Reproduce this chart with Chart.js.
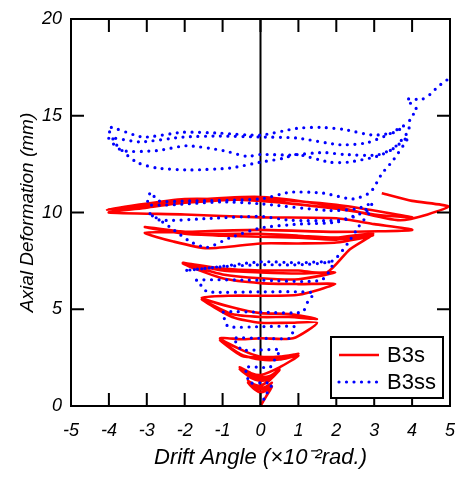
<!DOCTYPE html>
<html>
<head>
<meta charset="utf-8">
<script src="https://cdn.jsdelivr.net/npm/chart.js@4.4.1/dist/chart.umd.min.js"></script>
<style>
  body { margin: 0; background: #fff; }
</style>
</head>
<body>
<canvas id="axialChart" width="457" height="477"></canvas>
<script>
// series names
const seriesNames = ['B3s', 'B3ss'];

// B3s : [drift angle, axial deformation]
const b3s = [
  [0,0],[0.15,0.5],[0.3,1.0],[0.15,0.8],[0,0.7],[-0.15,0.85],[-0.33,1.2],[-0.15,0.95],[0,0.85],
  [0.15,0.95],[0.3,1.2],[0.15,1.0],[0,0.95],[-0.15,1.05],[-0.33,1.3],[-0.15,1.1],[0,1.05],
  [0.25,1.35],[0.5,1.85],[0.25,1.4],[0,1.3],[-0.25,1.45],[-0.55,1.9],[-0.25,1.5],[0,1.4],
  [0.25,1.5],[0.5,1.9],[0.25,1.55],[0,1.5],[-0.25,1.6],[-0.55,2.0],[-0.25,1.7],[0,1.6],
  [0.5,2.0],[1.0,2.6],[0.5,2.4],[0,2.4],[-0.5,2.65],[-1.07,3.4],[-0.5,2.6],[0,2.5],
  [0.5,2.5],[1.0,2.7],[0.5,2.55],[0,2.55],[-0.5,2.9],[-1.07,3.5],[-0.5,3.45],[0,3.5],[0.86,3.5],
  [1.49,4.3],[0.75,4.3],[0,4.3],[-0.75,4.6],[-1.55,5.5],[-0.75,4.75],[0,4.6],
  [0.75,4.6],[1.49,4.5],[0.75,4.75],[0,4.8],[-0.75,5.1],[-1.55,5.6],[-0.75,5.7],[0,5.7],[1.0,5.75],
  [1.97,6.3],[1.0,6.3],[0,6.35],[-1.0,6.6],[-2.05,7.35],[-1.0,6.8],[0,6.6],
  [1.0,6.55],[1.97,6.9],[1.0,6.85],[0,6.9],[-1.0,7.0],[-2.05,7.4],[-1.0,7.1],[0,7.0],[1.0,7.0],[1.75,6.9],[2.36,8.1],
  [2.97,8.9],[2.0,8.7],[1.0,8.8],[0,8.9],[-1.5,8.9],[-3.05,9.25],[-2.0,8.9],[-1.0,8.8],[0,8.75],[1.0,8.7],[2.0,8.6],[2.97,8.8],
  [2.0,8.45],[1.0,8.4],[0,8.4],[-1.4,8.15],[-2.3,8.5],[-3.05,8.95],[-2.0,9.0],[0,9.1],[2.0,9.0],[4.0,9.1],
  [3.0,9.4],[2.0,9.7],[0,9.75],[-2.0,9.9],[-4.0,10.0],[-3.0,10.25],[-2.0,10.5],[0,10.7],[2.0,10.4],[4.0,9.75],
  [3.0,9.9],[2.0,10.2],[0,10.6],[-2.0,10.7],[-4.05,10.15],[-2.0,10.6],[0,10.8],[2.0,10.3],[3.69,9.6],
  [4.95,10.3],[4.0,10.6],[3.2,11.0]
];

// B3ss : [drift angle, axial deformation]
const b3ss = [
  [0,0],[0.15,0.6],[0.3,1.15],[0,1.2],[-0.3,1.2],[-0.35,1.6],[-0.4,2.0],[0,2.0],[0.25,2.0],
  [0.4,2.5],[0.51,2.9],[0,2.9],[-0.5,2.9],[-0.6,3.2],[-0.72,3.5],[0,3.5],[0.79,3.5],[0.85,3.8],
  [0.9,4.1],[0,4.1],[-0.85,4.1],[-0.95,4.5],[-1.0,4.85],[0,4.85],[1.1,4.85],[1.25,5.4],[1.4,5.85],
  [0,5.9],[-1.4,5.9],[-1.55,6.2],[-1.7,6.5],[0,6.5],[1.6,6.5],[1.9,7.4],[1.0,7.4],[0,7.45],
  [-1.5,7.1],[-2.0,7.0],[-1.0,7.2],[0,7.3],[1.0,7.3],[1.9,7.5],[2.3,8.4],[2.6,9.3],[2.9,10.1],
  [2.44,9.8],[2.1,9.6],[0.78,9.6],[0,9.8],[-1.3,9.7],[-2.65,9.6],[-2.96,10.0],
  [-2.39,9.25],[-1.86,8.5],[-1.41,8.2],[-0.8,8.7],[0,9.2],[1.0,9.4],[2.0,9.5],[2.6,9.9],[2.97,10.5],
  [2.55,10.2],[1.83,10.1],[0,10.45],[-0.98,10.55],[-2.96,10.4],[-2.9,11.05],
  [-2.7,10.6],[-1.86,10.6],[0,10.7],[0.78,11.05],[1.65,11.0],[2.44,10.7],[2.9,11.05],
  [3.2,12.0],[3.5,12.7],[3.9,13.9],
  [3.5,13.3],[3.07,12.97],[2.2,13.0],[1.65,13.1],[0.78,12.97],[0,13.0],[-0.36,12.9],[-0.98,13.2],
  [-1.94,13.45],[-2.73,13.2],[-3.65,13.2],[-4.0,13.85],
  [-3.18,13.65],[-2.04,13.9],[-1.07,13.95],[0,13.9],[0.96,13.85],[2.1,13.5],[2.8,13.6],[3.34,14.0],[3.8,14.5],
  [3.55,14.15],[2.97,14.0],[2.18,14.3],[1.57,14.4],[0.96,14.35],[0,14.0],[-1.07,14.1],[-2.04,14.15],
  [-3.1,13.9],[-4.0,14.4],
  [-3.8,13.5],[-3.27,12.6],[-2.73,12.3],[-1.86,12.2],[-0.8,12.3],[0,12.6],[0.6,12.8],[0.96,13.0],
  [1.83,12.6],[2.3,12.6],[3.07,12.9],[3.5,13.3],[3.9,14.2],[3.95,14.9],[4.13,15.3],[3.86,15.85],
  [4.26,15.85],[4.47,16.1],[4.68,16.5],[4.92,16.85]
];

// axis ranges and ticks
const xRange = [-5, 5];
const yRange = [0, 20];
const xStep = 1;
const yStep = 5;
const xTitle = 'Drift Angle (\u00d710\u207b\u00b2rad.)';
const yTitle = 'Axial Deformation (mm)';

const tickFont = { family: 'Liberation Sans', style: 'italic', size: 18 };

// frame, inner ticks, zero line and legend
const framePlugin = {
  id: 'frame',
  beforeDatasetsDraw(chart) {
    const { ctx, chartArea: a, scales: { x } } = chart;
    const x0 = x.getPixelForValue(0);
    ctx.save();
    ctx.strokeStyle = '#000';
    ctx.lineWidth = 2;
    ctx.beginPath();
    ctx.moveTo(x0, a.top);
    ctx.lineTo(x0, a.bottom);
    ctx.stroke();
    ctx.restore();
  },
  afterDraw(chart) {
    const { ctx, chartArea: a, scales: { x, y } } = chart;
    const len = 13;
    ctx.save();
    ctx.strokeStyle = '#000';
    ctx.lineWidth = 2;
    ctx.strokeRect(a.left, a.top, a.right - a.left, a.bottom - a.top);
    ctx.beginPath();
    x.ticks.forEach(t => {
      const px = x.getPixelForValue(t.value);
      ctx.moveTo(px, a.bottom); ctx.lineTo(px, a.bottom - len);
      ctx.moveTo(px, a.top); ctx.lineTo(px, a.top + len);
    });
    y.ticks.forEach(t => {
      const py = y.getPixelForValue(t.value);
      ctx.moveTo(a.left, py); ctx.lineTo(a.left + len, py);
      ctx.moveTo(a.right, py); ctx.lineTo(a.right - len, py);
    });
    ctx.stroke();

    // legend
    const bx = 331, by = 337, bw = 112, bh = 61;
    ctx.fillStyle = '#fff';
    ctx.fillRect(bx, by, bw, bh);
    ctx.strokeRect(bx, by, bw, bh);
    ctx.font = '22px "Liberation Sans"';
    ctx.textBaseline = 'middle';
    chart.data.datasets.forEach((ds, i) => {
      const ly = by + 18 + i * 27;
      ctx.save();
      ctx.strokeStyle = ds.borderColor;
      ctx.lineWidth = ds.borderWidth;
      ctx.lineCap = ds.borderCapStyle || 'butt';
      ctx.setLineDash(ds.borderDash || []);
      ctx.beginPath();
      ctx.moveTo(bx + 8, ly);
      ctx.lineTo(bx + 48, ly);
      ctx.stroke();
      ctx.restore();
      ctx.fillStyle = '#000';
      ctx.fillText(ds.label, bx + 56, ly + 1);
    });
    ctx.restore();
  }
};

new Chart(document.getElementById('axialChart'), {
  type: 'scatter',
  data: {
    datasets: [
      {
        label: seriesNames[0],
        data: b3s.map(p => ({ x: p[0], y: p[1] })),
        showLine: true,
        borderColor: '#ff0000',
        borderWidth: 2.6,
        pointRadius: 0,
        tension: 0.22,
        fill: false,
        order: 2
      },
      {
        label: seriesNames[1],
        data: b3ss.map(p => ({ x: p[0], y: p[1] })),
        showLine: true,
        borderColor: '#0000ff',
        borderWidth: 3.2,
        borderDash: [0, 7.5],
        borderCapStyle: 'round',
        pointRadius: 0,
        tension: 0.22,
        fill: false,
        order: 1
      }
    ]
  },
  options: {
    responsive: false,
    animation: false,
    devicePixelRatio: 1,
    layout: { padding: { top: 19, right: 7, left: 0, bottom: 0 } },
    plugins: { legend: { display: false }, tooltip: { enabled: false } },
    scales: {
      x: {
        type: 'linear',
        min: xRange[0],
        max: xRange[1],
        ticks: { stepSize: xStep, font: tickFont, color: '#000', padding: 14, maxRotation: 0 },
        grid: { display: false, drawTicks: false },
        border: { display: false },
        title: { display: true, text: xTitle, font: { family: 'Liberation Sans', style: 'italic', size: 22 }, color: '#000', padding: { top: 0, bottom: 6 } },
        afterFit: s => { s.height = 71; s.paddingLeft = 0; s.paddingRight = 0; }
      },
      y: {
        type: 'linear',
        min: yRange[0],
        max: yRange[1],
        ticks: { stepSize: yStep, font: tickFont, color: '#000', padding: 9 },
        grid: { display: false, drawTicks: false },
        border: { display: false },
        title: { display: true, text: yTitle, font: { family: 'Liberation Sans', style: 'italic', size: 19 }, color: '#000', padding: { top: 16, bottom: 0 } },
        afterFit: s => { s.width = 71; s.paddingTop = 0; s.paddingBottom = 0; }
      }
    }
  },
  plugins: [framePlugin]
});
</script>
</body>
</html>
